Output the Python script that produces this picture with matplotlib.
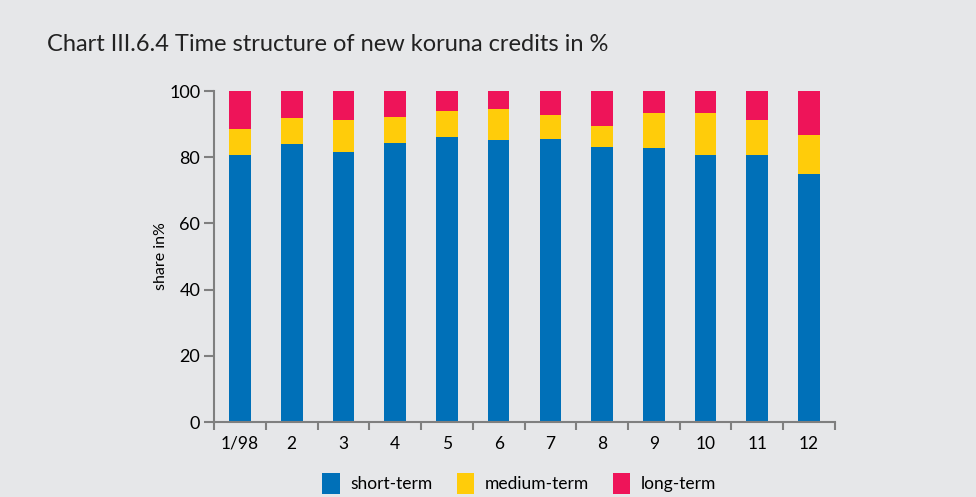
import matplotlib.pyplot as plt
import numpy as np

# Data (cumulative tops converted to shares)
months = ['1/98', '2', '3', '4', '5', '6', '7', '8', '9', '10', '11', '12']
short_term = [80.6, 83.9, 81.7, 84.2, 86.2, 85.2, 85.6, 83.1, 82.9, 80.7, 80.7, 74.9]
medium_term = [7.9, 8.0, 9.4, 8.0, 7.7, 9.5, 7.3, 6.4, 10.4, 12.8, 10.6, 11.8]
long_term = [100 - s - m for s, m in zip(short_term, medium_term)]

BG = '#e6e7e9'
BLUE = '#0070b8'
YELLOW = '#ffcc0a'
RED = '#ee1459'
AXIS = '#7f7f7f'

plt.rcParams['font.family'] = ['Lato', 'DejaVu Sans']

fig = plt.figure(figsize=(9.76, 4.97), dpi=100, facecolor=BG)
ax = fig.add_axes([0.2193, 0.1509, 0.6362, 0.666])
ax.set_facecolor(BG)

x = np.arange(len(months))
width = 0.42
short = np.array(short_term)
med = np.array(medium_term)
ax.bar(x, short, width, color=BLUE, label='short-term')
ax.bar(x, med, width, bottom=short, color=YELLOW, label='medium-term')
ax.bar(x, long_term, width, bottom=short + med, color=RED, label='long-term')

ax.set_xlim(-0.5, len(months) - 0.5)
ax.set_ylim(0, 100)
ax.set_yticks([0, 20, 40, 60, 80, 100])
ax.set_xticks(x)
ax.set_xticklabels(months)
ax.set_xticks(np.arange(-0.5, len(months), 1), minor=True)
ax.tick_params(axis='x', which='major', length=0, pad=10, labelsize=12.5)
ax.tick_params(axis='x', which='minor', length=6, width=1.5, color=AXIS)
ax.tick_params(axis='y', length=7, width=1.5, color=AXIS, labelsize=13, pad=3)

for side in ['top', 'right']:
    ax.spines[side].set_visible(False)
for side in ['left', 'bottom']:
    ax.spines[side].set_color(AXIS)
    ax.spines[side].set_linewidth(1.5)

ax.set_ylabel('share in%', fontsize=11.5, labelpad=1)

fig.text(0.048, 0.91, 'Chart III.6.4 Time structure of new koruna credits in %',
         fontsize=17, ha='left', va='center', color='#222222')

fig.legend(loc='center', bbox_to_anchor=(0.532, 0.027), ncol=3, frameon=False,
           fontsize=12.5, handlelength=1.0, handleheight=1.5, columnspacing=1.4,
           handletextpad=0.6)

plt.savefig('out.png', dpi=100, facecolor=BG)
plt.close()
